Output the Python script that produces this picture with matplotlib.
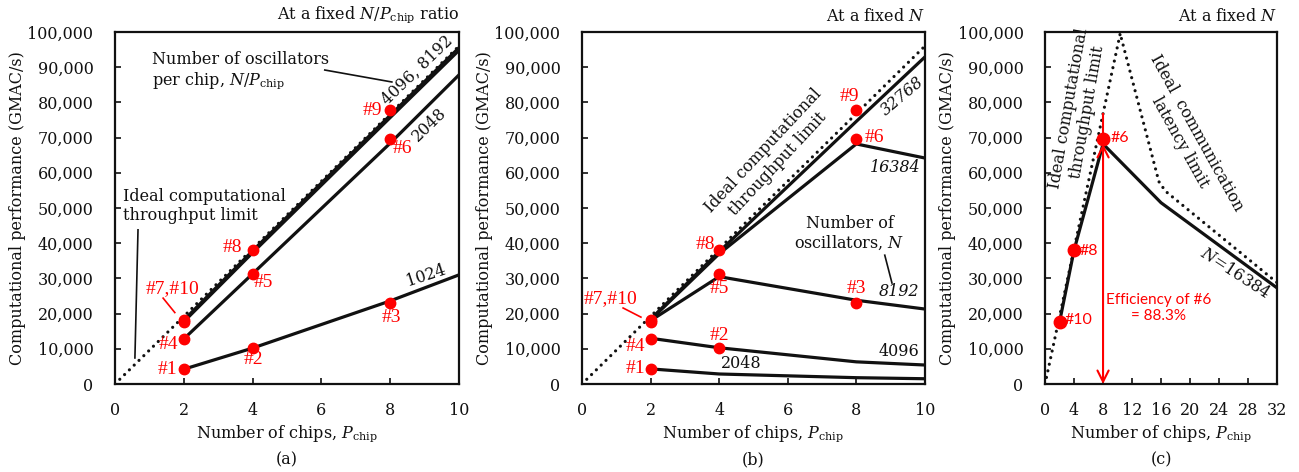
import matplotlib
matplotlib.use("Agg")
import matplotlib.pyplot as plt
from matplotlib.ticker import FuncFormatter

plt.rcParams["font.family"] = ["DejaVu Serif"]
plt.rcParams["mathtext.fontset"] = "dejavuserif"
plt.rcParams["font.size"] = 11.5

RED = "#ff0000"
INK = "#111111"
FS = 11.5
SANS = ["Lato", "DejaVu Sans"]
RSERIF = ["Liberation Serif", "DejaVu Serif"]

# ---------- data ----------
ideal_slope = 9600  # GMAC/s per chip
ideal_x = [0, 10]
ideal_x_c = [0, 10.42]

chips = [2, 4, 8, 10]
# (a) fixed N/P_chip ratio
a_1024 = [4200, 10200, 23600, 31000]
a_2048 = [12800, 31300, 68400, 87800]
a_4096 = [17600, 37200, 75600, 94700]
a_8192 = [18200, 37900, 76400, 95600]

# (b) fixed N
b_2048 = [4300, 2850, 1800, 1500]
b_4096 = [13000, 10300, 6300, 5400]
b_8192 = [18000, 30500, 23800, 21300]
b_16384 = [18200, 37000, 68200, 64200]
b_32768 = [18400, 37600, 74600, 92900]

# measured points #1..#10 (x, y)
pt_x = [2, 4, 8, 2, 4, 8, 2, 4, 8, 2]
pt_y = [4200, 10200, 23000, 12900, 31200, 69600, 18200, 38000, 77900, 17600]

# (c) N = 16384
c_x = [2, 4, 8, 16, 32]
c_y = [17600, 38000, 68200, 51500, 27300]
comm_x = [10.3, 15.7, 16.6, 32]
comm_y = [100000, 57500, 54800, 28800]
c_pts_x = [2, 4, 8]
c_pts_y = [17600, 38000, 69600]
eff_x = 8
eff_top = 68200
eff_ideal = 76800


def fmt(v, pos):
    return f"{int(v):,}"


def style(ax, xmax, xticks):
    ax.set_xlim(0, xmax)
    ax.set_ylim(0, 100000)
    ax.set_xticks(xticks)
    ax.set_yticks(range(0, 100001, 10000))
    ax.yaxis.set_major_formatter(FuncFormatter(fmt))
    ax.tick_params(direction="in", length=4, width=1.2, labelsize=FS, colors=INK)
    ax.tick_params(axis="x", pad=13)
    ax.tick_params(axis="y", pad=15.5)
    for s in ax.spines.values():
        s.set_linewidth(1.6)
        s.set_color(INK)
    ax.set_ylabel("Computational performance (GMAC/s)", fontsize=FS, color=INK, labelpad=1)
    ax.set_xlabel(r"Number of chips, $P_{\rm chip}$", fontsize=FS, color=INK, labelpad=3)


def dotted(ax, x, y):
    ax.plot(x, y, color=INK, lw=2.3, linestyle=(0, (0.01, 2.1)),
            dash_capstyle="round", zorder=2)


def solid(ax, x, y, lw=2.3):
    ax.plot(x, y, color=INK, lw=lw, solid_joinstyle="miter", zorder=3)


def red(ax, x, y, s, **kw):
    ax.text(x, y, s, color=RED, fontsize=14, va="center", family=RSERIF, **kw)


def black(ax, x, y, s, **kw):
    ax.text(x, y, s, color=INK, fontsize=FS, va="center", **kw)


def red_sans(ax, x, y, s, **kw):
    ax.text(x, y, s, color=RED, fontsize=11.5, va="center", family=SANS, **kw)


fig = plt.figure(figsize=(12.99, 4.72), dpi=100)
axa = fig.add_axes([0.0885, 0.1864, 0.2648, 0.7458])
axb = fig.add_axes([0.4480, 0.1864, 0.2640, 0.7458])
axc = fig.add_axes([0.8045, 0.1864, 0.1786, 0.7458])

# ===== (a) =====
ax = axa
dotted(ax, ideal_x, [ideal_slope * v for v in ideal_x])
solid(ax, chips, a_1024)
solid(ax, chips, a_2048)
solid(ax, chips, a_4096, lw=2.0)
solid(ax, chips, a_8192, lw=2.0)
ax.plot(pt_x, pt_y, "o", color=RED, ms=7.5, zorder=5)
style(ax, 10, range(0, 11, 2))
ax.text(1.0, 1.02, r"At a fixed $N/P_{\rm chip}$ ratio", transform=ax.transAxes,
        ha="right", va="bottom", fontsize=FS, color=INK)
black(ax, 1.08, 89000, "Number of oscillators\n" + r"per chip, $N/P_{\rm chip}$",
      ha="left", linespacing=1.15)
ax.plot([6.1, 8.05], [89200, 85800], color=INK, lw=1.2)
black(ax, 8.8, 89000, "4096, 8192", rotation=44, ha="center", rotation_mode="anchor")
black(ax, 9.13, 73600, "2048", rotation=44, ha="center", rotation_mode="anchor")
black(ax, 9.04, 30800, "1024", rotation=18, ha="center", rotation_mode="anchor")
black(ax, 0.23, 50500, "Ideal computational\nthroughput limit", ha="left", linespacing=1.15)
ax.plot([0.67, 0.58], [43800, 7400], color=INK, lw=1.2)
red(ax, 3.4, 38900, "#8", ha="center")
red(ax, 4.3, 28700, "#5", ha="center")
red(ax, 8.05, 19000, "#3", ha="center")
red(ax, 4.04, 6900, "#2", ha="center")
red(ax, 1.54, 11100, "#4", ha="center")
red(ax, 1.54, 4000, "#1", ha="center")
red(ax, 1.66, 27000, "#7,#10", ha="center")
ax.plot([1.4, 1.74], [24400, 20300], color=RED, lw=1.2)
red(ax, 7.47, 77700, "#9", ha="center")
red(ax, 8.37, 66900, "#6", ha="center")
ax.text(0.5, -0.215, "(a)", transform=ax.transAxes, ha="center", va="center",
        fontsize=FS, color=INK)

# ===== (b) =====
ax = axb
dotted(ax, ideal_x, [ideal_slope * v for v in ideal_x])
for ys in (b_2048, b_4096, b_8192, b_16384, b_32768):
    solid(ax, chips, ys)
ax.plot(pt_x, pt_y, "o", color=RED, ms=7.5, zorder=5)
style(ax, 10, range(0, 11, 2))
ax.text(1.0, 1.02, r"At a fixed $N$", transform=ax.transAxes,
        ha="right", va="bottom", fontsize=FS, color=INK)
black(ax, 5.5, 64500, "Ideal computational\nthroughput limit", rotation=47,
      ha="center", linespacing=1.15, rotation_mode="anchor")
black(ax, 9.33, 81800, "32768", rotation=40, ha="center", style="italic",
      rotation_mode="anchor")
black(ax, 9.13, 61600, "16384", ha="center", style="italic")
black(ax, 9.24, 26300, "8192", ha="center", style="italic")
black(ax, 9.24, 9200, "4096", ha="center")
black(ax, 4.65, 5800, "2048", ha="center")
black(ax, 7.8, 42800, "Number of\n" + r"oscillators, $N$", ha="center", linespacing=1.15)
ax.plot([8.83, 9.04], [36600, 28700], color=INK, lw=1.2)
red(ax, 0.82, 24200, "#7,#10", ha="center")
ax.plot([1.2, 1.72], [21600, 19000], color=RED, lw=1.2)
red(ax, 7.8, 81800, "#9", ha="center")
red(ax, 8.25, 70000, "#6", ha="left")
red(ax, 3.6, 39600, "#8", ha="center")
red(ax, 4.0, 27000, "#5", ha="center")
red(ax, 8.0, 27000, "#3", ha="center")
red(ax, 4.0, 13700, "#2", ha="center")
red(ax, 1.55, 10800, "#4", ha="center")
red(ax, 1.55, 4500, "#1", ha="center")
ax.text(0.5, -0.215, "(b)", transform=ax.transAxes, ha="center", va="center",
        fontsize=FS, color=INK)

# ===== (c) =====
ax = axc
dotted(ax, ideal_x_c, [ideal_slope * v for v in ideal_x_c])
dotted(ax, comm_x, comm_y)
solid(ax, c_x, c_y)
ax.plot([eff_x, eff_x], [eff_top, eff_ideal], color=RED, lw=1.5, zorder=4)
ax.annotate("", xy=(eff_x, 0), xytext=(eff_x, eff_top),
            arrowprops=dict(arrowstyle="<->,head_length=0.7,head_width=0.35",
                            color=RED, lw=1.5, shrinkA=0, shrinkB=0), zorder=4)
ax.plot(c_pts_x, c_pts_y, "o", color=RED, ms=9, zorder=5)
style(ax, 32, range(0, 33, 4))
ax.text(1.0, 1.02, r"At a fixed $N$", transform=ax.transAxes,
        ha="right", va="bottom", fontsize=FS, color=INK)
black(ax, 4.6, 77800, "Ideal computational\nthroughput limit", rotation=80,
      ha="center", linespacing=1.15, rotation_mode="anchor")
black(ax, 19.8, 70000, "Ideal  communication\nlatency limit", rotation=-61,
      ha="center", linespacing=1.15, rotation_mode="anchor")
black(ax, 26.2, 31400, r"$N$=16384", rotation=-33, ha="center", rotation_mode="anchor")
red_sans(ax, 9.0, 70000, "#6", ha="left")
red_sans(ax, 4.7, 37800, "#8", ha="left")
red_sans(ax, 2.75, 18200, "#10", ha="left")
ax.text(15.7, 21600, "Efficiency of #6\n= 88.3%", color=RED, fontsize=11, ha="center",
        va="center", family=SANS, linespacing=1.2)
ax.text(0.5, -0.215, "(c)", transform=ax.transAxes, ha="center", va="center",
        fontsize=FS, color=INK)

fig.savefig("out.png", dpi=100)
